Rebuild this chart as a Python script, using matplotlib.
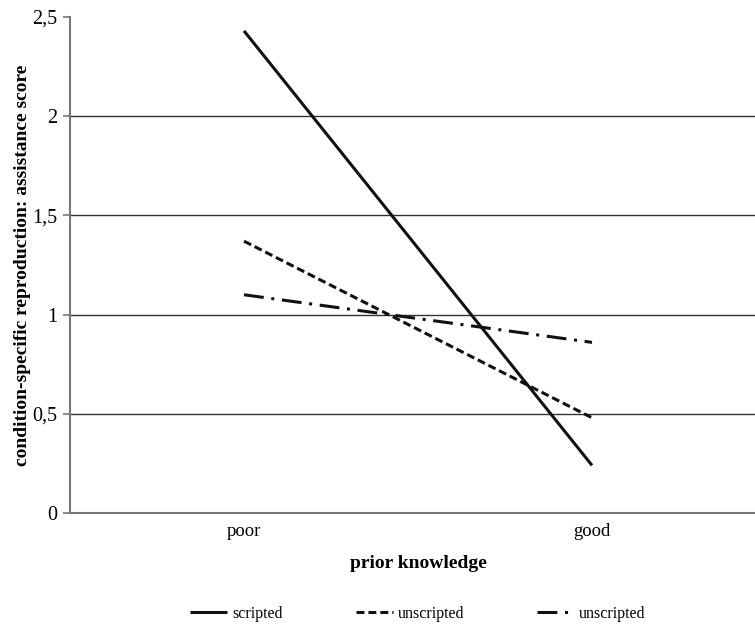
import matplotlib.pyplot as plt

# values
knowledge = ['poor', 'good']
scripted = [2.43, 0.24]
unscripted_a = [1.37, 0.48]
unscripted_b = [1.10, 0.86]
y_ticks = [0, 0.5, 1, 1.5, 2, 2.5]
y_tick_labels = ['0', '0,5', '1', '1,5', '2', '2,5']

plt.rcParams['font.family'] = ['Liberation Serif', 'DejaVu Serif']

fig = plt.figure(figsize=(7.55, 6.27), dpi=100)
ax = fig.add_axes([70 / 755, 114 / 627, 696 / 755, 496 / 627])

x = range(len(knowledge))
ax.plot(x, scripted, color='#111111', lw=2.2, label='scripted', solid_capstyle='butt')
ax.plot(x, unscripted_a, color='#111111', lw=2.2, ls=(0, (2.6, 1.3)), label='unscripted')
ax.plot(x, unscripted_b, color='#111111', lw=2.2, ls=(0, (6.5, 2.5, 1, 2.5)), label='unscripted')

ax.set_xlim(-0.5, 1.5)
ax.set_ylim(0, 2.5)
ax.set_xticks(list(x))
ax.set_xticklabels(knowledge, fontsize=13.5)
ax.set_yticks(y_ticks)
ax.set_yticklabels(y_tick_labels, fontsize=14.5)
ax.tick_params(axis='x', length=0, pad=7)
ax.tick_params(axis='y', length=5, color='#777777', width=1.2, pad=4)

for v in y_ticks[1:-1]:
    ax.axhline(v, color='#333333', lw=1.0, zorder=0)

for side in ['top', 'right']:
    ax.spines[side].set_visible(False)
for side in ['left', 'bottom']:
    ax.spines[side].set_color('#777777')
    ax.spines[side].set_linewidth(1.5)

ax.set_xlabel('prior knowledge', fontsize=14, fontweight='bold', labelpad=11)
ax.set_ylabel('condition-specific reproduction: assistance score', fontsize=14,
              fontweight='bold', labelpad=1)

fig.legend(loc='center', bbox_to_anchor=(418 / 755, 1 - 614 / 627), ncol=3, frameon=False,
           fontsize=11.5, handlelength=2.3, handletextpad=0.3, columnspacing=4.6)

plt.savefig('out.png', dpi=100)
